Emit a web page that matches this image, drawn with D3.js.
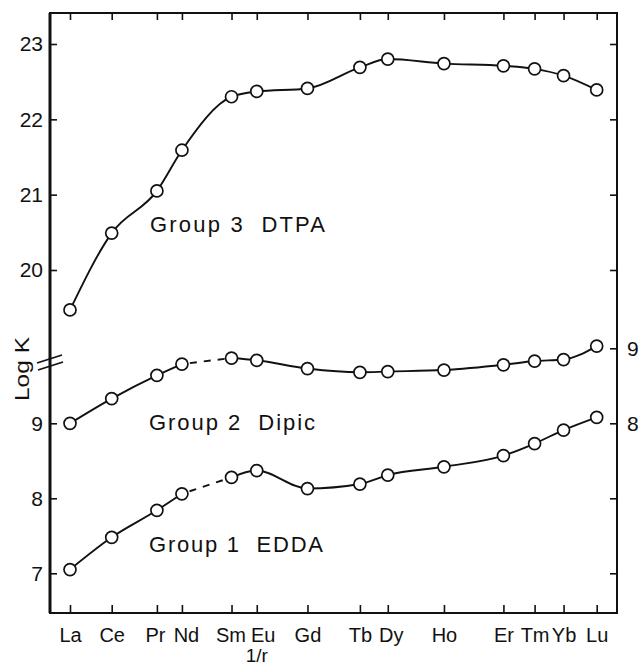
<!DOCTYPE html>
<html>
<head>
<meta charset="utf-8">
<script src="https://cdn.jsdelivr.net/npm/d3@7"></script>
<style>
  html, body { margin: 0; padding: 0; background: #fff; }
  svg { display: block; }
  text { font-family: "Liberation Sans", Arial, sans-serif; fill: #111; }
</style>
</head>
<body>
<svg id="chart" width="642" height="668"></svg>
<script>
// ---- data ----
const elements = ["La","Ce","Pr","Nd","Sm","Eu","Gd","Tb","Dy","Ho","Er","Tm","Yb","Lu"];
const invR     = [0.940,0.959,0.9796,0.991,1.0136,1.0251,1.0482,1.0721,1.0848,1.1104,1.1375,1.1517,1.1649,1.180];
const dtpa     = [19.47,20.49,21.05,21.59,22.30,22.37,22.41,22.69,22.80,22.74,22.71,22.67,22.58,22.39];
const dipic    = [8.00,8.33,8.64,8.79,8.87,8.84,8.73,8.68,8.69,8.71,8.78,8.83,8.85,9.03];
const edda     = [7.05,7.48,7.84,8.06,8.28,8.37,8.13,8.19,8.31,8.42,8.57,8.73,8.91,9.08];
const upperTicks = [20,21,22,23];
const lowerTicks = [7,8,9];
const rightTicks = [6,7,8,9];
const rightLabels = [8,9];
const seriesLabels = ["Group 3  DTPA","Group 2  Dipic","Group 1  EDDA"];

// ---- layout ----
const frame = {left: 50, right: 617, top: 13, bottom: 613};
const svg = d3.select("#chart");

const x = d3.scaleLinear().domain([0.94, 1.18]).range([70, 596.7]);
const yTop = d3.scaleLinear().domain([20, 23]).range([270, 44]);
const yLow = d3.scaleLinear().domain([7, 9]).range([573.3, 423.3]);
const yRight = d3.scaleLinear().domain([6, 9]).range([573.3, 348.3]);

function styleAxis(g, size) {
  g.select(".domain").remove();
  g.selectAll(".tick line").attr("stroke", "#111").attr("stroke-width", 1.6);
  g.selectAll(".tick text").style("font-size", (size || 21) + "px").attr("fill", "#111")
   .style("font-family", '"Liberation Sans", Arial, sans-serif');
}

// frame
svg.append("rect")
  .attr("x", frame.left).attr("y", frame.top)
  .attr("width", frame.right - frame.left).attr("height", frame.bottom - frame.top)
  .attr("fill", "none").attr("stroke", "#111").attr("stroke-width", 2);
svg.append("line")
  .attr("x1", frame.left).attr("x2", frame.left)
  .attr("y1", frame.top).attr("y2", frame.bottom)
  .attr("stroke", "#111").attr("stroke-width", 3);

// left axes
svg.append("g").attr("transform", `translate(${frame.left},0)`)
  .call(d3.axisLeft(yTop).tickValues(upperTicks).tickSizeInner(-7).tickSizeOuter(0).tickPadding(7).tickFormat(d3.format("d")))
  .call(styleAxis);
svg.append("g").attr("transform", `translate(${frame.left},0)`)
  .call(d3.axisLeft(yLow).tickValues(lowerTicks).tickSizeInner(-7).tickSizeOuter(0).tickPadding(7).tickFormat(d3.format("d")))
  .call(styleAxis);

// right axes
svg.append("g").attr("transform", `translate(${frame.right},0)`)
  .call(d3.axisRight(yRight).tickValues(rightTicks).tickSizeInner(-7).tickSizeOuter(0).tickPadding(10)
    .tickFormat(d => rightLabels.includes(d) ? d : ""))
  .call(styleAxis);
svg.append("g").attr("transform", `translate(${frame.right},0)`)
  .call(d3.axisRight(yTop).tickValues(upperTicks).tickSizeInner(-7).tickSizeOuter(0).tickFormat(""))
  .call(styleAxis);

// bottom & top axes
const labelShift = {Nd: 4, Eu: 6, Dy: 3, Sm: -1, Pr: -2};
const bottomAxis = svg.append("g").attr("transform", `translate(0,${frame.bottom})`)
  .call(d3.axisBottom(x).tickValues(invR).tickSizeInner(-8).tickSizeOuter(0).tickPadding(15)
    .tickFormat((d, i) => elements[i]))
  .call(g => styleAxis(g, 20));
bottomAxis.selectAll(".tick text").attr("dx", (d, i) => labelShift[elements[i]] || 0);
svg.append("g").attr("transform", `translate(0,${frame.top})`)
  .call(d3.axisTop(x).tickValues(invR).tickSizeInner(-7).tickSizeOuter(0).tickFormat(""))
  .call(styleAxis);

// axis break marks on left axis
const brk = svg.append("g").attr("stroke", "#111").attr("stroke-width", 1.8);
brk.append("line").attr("x1", 37).attr("y1", 363).attr("x2", 62).attr("y2", 355);
brk.append("line").attr("x1", 38).attr("y1", 370).attr("x2", 63).attr("y2", 362);

// axis titles
svg.append("text")
  .attr("transform", "translate(29,369) rotate(-90)")
  .attr("text-anchor", "middle")
  .attr("textLength", 64).attr("lengthAdjust", "spacingAndGlyphs")
  .style("font-size", "21px")
  .text("Log K");
svg.append("text")
  .attr("x", x(invR[5])).attr("y", 662)
  .attr("text-anchor", "middle")
  .style("font-size", "19px")
  .text("1/r");

// series drawing
function drawSeries(values, yScale, dashedFrom) {
  const pts = values.map((v, i) => [x(invR[i]), yScale(v)]);
  const line = d3.line().curve(d3.curveMonotoneX);
  const g = svg.append("g");
  if (dashedFrom == null) {
    g.append("path").attr("d", line(pts)).attr("fill", "none").attr("stroke", "#111").attr("stroke-width", 1.9);
  } else {
    g.append("path").attr("d", line(pts.slice(0, dashedFrom + 1)))
      .attr("fill", "none").attr("stroke", "#111").attr("stroke-width", 1.9);
    g.append("path").attr("d", d3.line()(pts.slice(dashedFrom, dashedFrom + 2)))
      .attr("fill", "none").attr("stroke", "#111").attr("stroke-width", 1.9)
      .attr("stroke-dasharray", "7,7").attr("stroke-dashoffset", -8);
    g.append("path").attr("d", line(pts.slice(dashedFrom + 1)))
      .attr("fill", "none").attr("stroke", "#111").attr("stroke-width", 1.9);
  }
  g.selectAll("circle").data(pts).join("circle")
    .attr("cx", d => d[0]).attr("cy", d => d[1]).attr("r", 6)
    .attr("fill", "#fff").attr("stroke", "#111").attr("stroke-width", 1.7);
}
drawSeries(dtpa, yTop, null);
drawSeries(dipic, yRight, 3);
drawSeries(edda, yLow, 3);

// series labels
const labelPos = [
  {x: 150, y: 231.5, w: 175},
  {x: 149, y: 430, w: 166},
  {x: 149, y: 551.5, w: 174}
];
seriesLabels.forEach((t, i) => {
  svg.append("text")
    .attr("x", labelPos[i].x).attr("y", labelPos[i].y)
    .attr("textLength", labelPos[i].w).attr("lengthAdjust", "spacing")
    .attr("xml:space", "preserve")
    .style("white-space", "pre")
    .style("font-size", "22px")
    .text(t);
});
</script>
</body>
</html>
